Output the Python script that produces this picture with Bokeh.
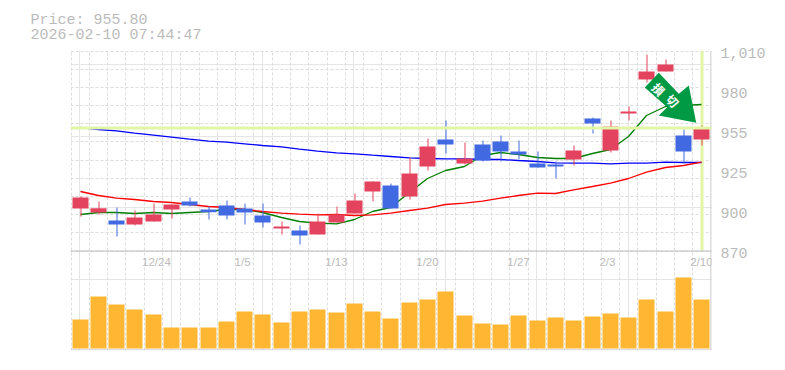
import math
from bokeh.plotting import figure
from bokeh.models import Range1d, LinearAxis, FixedTicker, Span, Title, ColumnDataSource, Grid
from bokeh.core.properties import value
from bokeh.embed import file_html
from bokeh.resources import INLINE

price_text = "Price: 955.80"
time_text = "2026-02-10 07:44:47"
last_price = 955.8

opens = [899.4,896.6,891,888.2,890.3,898.7,904.3,898.7,901.5,899.4,894.5,885.4,884,881.2,889.6,895.9,911.3,915.5,907.8,928.8,947.7,930.9,944.2,946.3,939.3,930.9,930.2,933.7,962.4,940,965.9,989.7,995.3,950.5,947.7]
highs = [907.8,904.3,900.1,898,902.9,902.2,907.1,900.8,905,902.9,902.9,890.3,887.5,895.9,900.8,909.9,918.3,916.9,935.1,948.4,961,945.6,947,950.5,947,939.3,932.3,943.5,963.1,961,970.8,1007.2,1003.7,954.7,957.5]
lows = [893.8,895.2,879.8,887.5,890.3,892.4,900.8,891.7,891.7,888.2,886.1,881.2,874.2,881.2,889.6,895.9,904.3,899.4,905.7,926,937.9,930.2,932.3,932.3,933.7,928.1,920.4,929.5,951.9,938.6,961,987.6,995.3,930.9,943.5]
closes = [907.1,899.6,888.2,893.1,895.2,902.2,901.5,896.8,894.5,896.6,889.6,886.8,880.5,890.3,895.2,905,918.3,899.4,923.9,942.8,944.2,934.4,933,939.3,937.2,928.1,928.8,940,958.9,956.8,967.3,995.3,1000.2,939.3,956.1]
volumes = [87,156,132,117,102,63,63,63,81,111,102,78,111,117,108,135,111,90,138,147,171,99,75,72,99,84,93,84,96,105,93,147,111,213,147]
ma_blue = [956.1,954.7,953.8,952.1,950.7,949.3,947.9,946.5,945.8,944.7,943.5,942.6,940.9,939.5,938.4,937.7,936.7,935.8,934.9,934.4,934.2,934.2,933.7,933.7,933,932.3,931.4,931.1,931.1,930.7,931.1,931.1,931.8,931.6,931.6]
ma_green = [895.2,896.6,896.6,895.9,896.6,895.9,896.6,897.3,898.7,898.7,896.6,893.1,890.3,889.1,888.7,891.7,897.3,900.1,910.6,920.4,926,928.8,936.5,938.6,937.2,935.1,934.4,934.4,937.9,940.7,949.8,964.5,970.8,971.5,972.2]
ma_red = [911.3,908.5,906.6,905.7,904.3,903.6,902.2,900.8,900.1,898.7,897.3,896.1,895.4,895,895.2,894.5,895,896.1,898,899.6,902.2,903.1,904.5,906.6,908.5,910.1,909.9,912.5,914.8,917.1,920.4,924.8,928.1,929.5,931.8]
date_ticks = [4.2, 8.91, 14.04, 19.02, 24.0, 28.86, 34.0]
date_labels = ["12/24", "1/5", "1/13", "1/20", "1/27", "2/3", "2/10"]
price_ticks = [1010, 982, 954, 926, 898, 870]
price_labels = ["1,010", "980", "955", "925", "900", "870"]

RED, BLUE, ORANGE = "#E4435F", "#4169E1", "#FFB733"
GREY, GRID, HILITE = "#BBBBBB", "#DDDDDD", "#E2F6A6"
MONO = "Liberation Mono"
FW, FH, PX_L, PX_T = 641, 300, 70, 50
SLOT = 640 / 35
UNIT = 0.7  # price per pixel
n = len(closes)

def dx(px): return (px - PX_L) / SLOT - 0.5
def dy(py): return 1010 - (py - PX_T) * UNIT
def slot_left(i): return math.floor(PX_L + i * SLOT)

# candle slots sit on whole pixels, like the gridlines
xs = [dx(slot_left(i) + 10) for i in range(n)]
xw = [dx(slot_left(i) + 10.5) for i in range(n)]

y0 = dy(PX_T + FH)
p = figure(frame_width=FW, frame_height=FH, width=765, height=354,
           x_range=Range1d(dx(PX_L), dx(PX_L + FW)), y_range=Range1d(y0, 1010),
           min_border_left=PX_L, min_border_top=PX_T, min_border_right=54, min_border_bottom=0,
           x_axis_location=None, y_axis_location=None,
           output_backend="svg", toolbar_location=None)
p.outline_line_color = None
p.background_fill_color = "white"
p.extra_y_ranges = {"vol": Range1d(-6, -6 + FH * 3), "ylab": Range1d(y0 + 1.4, 1010 + 1.4)}

grid_x = [dx(slot_left(i) + 0.5) for i in range(n)]
grid_y = [dy(math.floor(PX_T + i * 200 / 11) + 0.5) for i in range(12)]
p.add_layout(Grid(dimension=0, ticker=FixedTicker(ticks=grid_x),
                  grid_line_color=GRID, grid_line_dash="3 2", grid_line_width=1))
p.add_layout(Grid(dimension=1, ticker=FixedTicker(ticks=grid_y),
                  grid_line_color=GRID, grid_line_dash="3 2", grid_line_width=1))

# frame lines
for kw in (dict(location=dy(250.5), dimension="width"), dict(location=dy(349.5), dimension="width"),
           dict(location=dx(710.5), dimension="height")):
    p.add_layout(Span(line_color=GREY, line_width=1, **kw))

# volume
p.vbar(x=xs, top=volumes, bottom=0, width=16 / SLOT, fill_color=ORANGE, line_color=None, y_range_name="vol")

# highlights
p.add_layout(Span(location=dy(127.5), dimension="width", line_color=HILITE, line_width=3))
p.segment(x0=[xw[-1]], x1=[xw[-1]], y0=[870], y1=[1010], line_color=HILITE, line_width=3)

# moving averages
p.line(xs, ma_blue, line_color="#0000FF", line_width=1.3)
p.line(xs, ma_green, line_color="#007F00", line_width=1.3)
p.line(xs, ma_red, line_color="#FF0000", line_width=1.3)

# candles
colors = [RED if c >= o else BLUE for o, c in zip(opens, closes)]
src = ColumnDataSource(dict(x=xs, xw=xw, o=opens, h=highs, l=lows, c=closes, col=colors))
p.segment("xw", "h", "xw", "l", source=src, line_color="col", line_width=1)
p.vbar(x="x", top="o", bottom="c", width=16 / SLOT, source=src, fill_color="col", line_color=None)

# arrow annotation (given in canvas pixels)
arrow_px = [(644.3, 87), (658.3, 72.3), (678.3, 93.3), (688.3, 85), (695.7, 122.3), (658.3, 115), (666.7, 106.7)]
p.patch([dx(a) for a, _ in arrow_px], [dy(b) for _, b in arrow_px], fill_color="#009944", line_color=None)
p.text(x=[dx(658.5), dx(672.5)], y=[dy(88.5), dy(100)], text=["損", "切"], angle=-0.8,
       text_color="white", text_font=value("Noto Sans CJK JP"), text_font_size="12px", text_font_style="bold",
       text_align="center", text_baseline="middle")

# axes
xa = LinearAxis(fixed_location=870, ticker=FixedTicker(ticks=date_ticks),
                major_label_overrides=dict(zip(date_ticks, date_labels)),
                axis_line_color=None, major_tick_line_color=None, minor_tick_line_color=None,
                major_label_text_color=GREY, major_label_text_font="Liberation Sans", major_label_text_font_size="11.5px",
                major_label_standoff=-1)
p.add_layout(xa, "below")
ya = LinearAxis(y_range_name="ylab", ticker=FixedTicker(ticks=price_ticks),
                major_label_overrides=dict(zip(price_ticks, price_labels)),
                axis_line_color=None, major_tick_line_color=None, minor_tick_line_color=None,
                major_label_text_color=GREY, major_label_text_font=MONO, major_label_text_font_size="15px",
                major_label_standoff=3)
p.add_layout(ya, "right")

p.add_layout(Title(text=price_text + "\n" + time_text, align="left", offset=30 - PX_L, standoff=13,
                   text_color=GREY, text_line_height=0.88,
                   text_font=MONO, text_font_size="15px", text_font_style="normal"), "above")

open("out.html", "w").write(file_html(p, INLINE))
